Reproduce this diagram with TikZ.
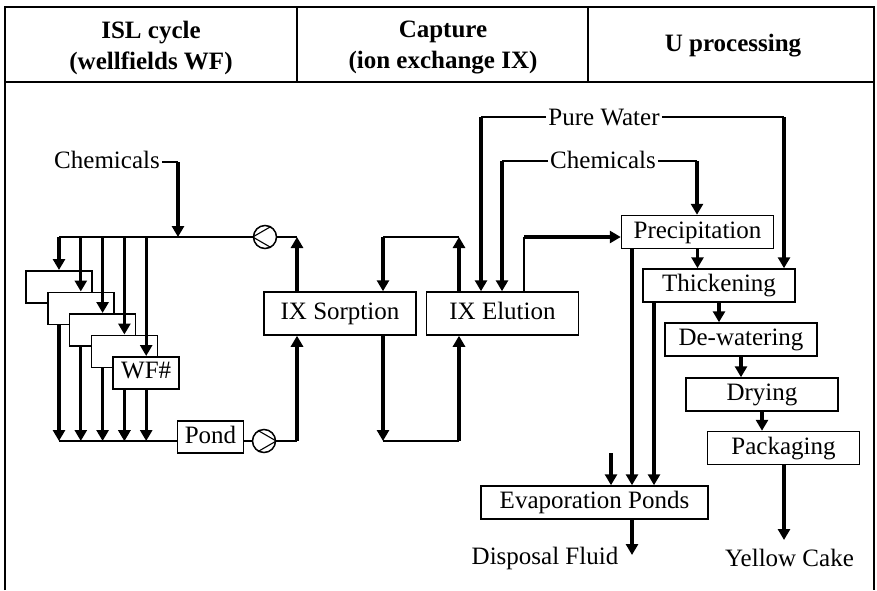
\documentclass[tikz,border=0pt]{standalone}
\usepackage{fontspec}
\setmainfont{Liberation Serif}
\usetikzlibrary{arrows.meta,calc}
\begin{document}
\begin{tikzpicture}[x=1pt,y=-1pt,
  txt/.style={inner sep=2pt,font=\fontsize{25}{30}\selectfont},
  hdr/.style={inner sep=0pt,align=center,font=\bfseries\fontsize{25}{31}\selectfont},
  box/.style={draw,line width=1.5pt,fill=white,minimum width=152pt,minimum height=33pt,inner sep=0pt,text height=17pt,text depth=5pt,font=\fontsize{25}{30}\selectfont},
  bigbox/.style={box,minimum height=43pt},
  wfbox/.style={draw,line width=1.5pt,fill=white,minimum width=66pt,minimum height=32pt,inner sep=0pt,text height=17pt,text depth=5pt,font=\fontsize{25}{30}\selectfont},
  thinline/.style={line width=1.7pt},
  flow/.style={line width=3.3pt,-{Triangle[length=11pt,width=12pt]}},
  pump/.style={circle,draw,line width=1.5pt,minimum size=23pt,inner sep=0pt},
  frame/.style={line width=2pt},
]
\useasboundingbox (0,0) rectangle (877,590);
% frame and header
\draw[frame] (5,590) -- (5,7) -- (874,7) -- (874,590);
\draw[frame] (5,82) -- (874,82);
\draw[frame] (297,7) -- (297,82);
\draw[frame] (588,7) -- (588,82);
\node[hdr] (h1) at (151,47.5) {ISL cycle\\(wellfields WF)};
\node[hdr] (h2) at (443,47.5) {Capture\\(ion exchange IX)};
\node[hdr] (h3) at (733,46) {U processing};

% main nodes
\node[bigbox] (sorp) at (340,313.5) {IX Sorption};
\node[bigbox] (elu) at (502.5,313.5) {IX Elution};
\node[box] (prec) at (697.5,232) {Precipitation};
\node[box] (thick) at (719,285.5) {Thickening};
\node[box] (dew) at (741,339.5) {De-watering};
\node[box] (dry) at (762,394.5) {Drying};
\node[box] (pack) at (783.5,448) {Packaging};
\node[box,minimum width=227pt] (evap) at (594.5,502.5) {Evaporation Ponds};
\node[wfbox] (pond) at (210.5,437) {Pond};
\node[pump] (p1) at (265,237) {};
\node[pump] (p2) at (264,441) {};
\draw[line width=1.1pt] (p1.60) -- (p1.west) -- (p1.-60);
\draw[line width=1.1pt] (p2.120) -- (p2.east) -- (p2.-120);

\node[txt] (ch1) at (107,160) {Chemicals};
\node[txt] (pw) at (604,117) {Pure Water};
\node[txt] (ch2) at (603,160) {Chemicals};
\node[txt] (disp) at (545,558) {Disposal Fluid};
\node[txt] (yc) at (789.5,558) {Yellow Cake};

% ISL cycle
\coordinate (chc) at (178,162);
\coordinate (chm) at (178,237);
\draw[thinline] (ch1.east |- chc) -- (chc);
\coordinate (wt0) at (59,237);
\coordinate (sA) at (297,237);
\coordinate (sB) at (297,441);
\draw[thinline] (wt0) -- (p1.west);
\draw[thinline] (p1.east) -- (sA);
\draw[flow] (chc) -- (chm);
\coordinate (wb0) at (59,441);
\draw[thinline] (wb0) -- (pond.west |- wb0);
\draw[thinline] (pond.east |- p2) -- (p2.west);
\draw[thinline] (p2.east) -- (sB);
\draw[flow] (sB) -- (sB |- sorp.south);
\draw[flow] (sA |- sorp.north) -- (sA);

\foreach \i in {0,...,4}{
  \pgfmathsetmacro{\xx}{59+21.8*\i}
  \pgfmathsetmacro{\yy}{270+21.5*\i}
  \coordinate (wt\i) at (\xx,237);
  \coordinate (wn\i) at (\xx,\yy);
  \coordinate (wb\i) at (\xx,441);
  \draw[flow] (wt\i) -- (wn\i);
  \ifnum\i>0
    \pgfmathtruncatemacro{\j}{\i-1}
    \draw[flow] (w\j.south -| wb\j) -- (wb\j);
  \fi
  \node[wfbox,anchor=north] (w\i) at (wn\i) {\ifnum\i=4 WF\#\fi};
}
\draw[flow] (w4.south -| wb4) -- (wb4);
\coordinate (w3x) at (124.4,441);
\draw[flow] (w4.south -| w3x) -- (w3x);

% capture loop
\coordinate (L1) at (383,237);
\coordinate (L2) at (459,237);
\coordinate (L3) at (383,441);
\coordinate (L4) at (459,441);
\draw[flow] (L2 |- elu.north) -- (L2);
\draw[thinline] (L2) -- (L1);
\draw[flow] (L1) -- (L1 |- sorp.north);
\draw[flow] (L1 |- sorp.south) -- (L3);
\draw[thinline] (L3) -- (L4);
\draw[flow] (L4) -- (L4 |- elu.south);

% pure water and chemicals
\coordinate (pwL) at (481,117);
\coordinate (pwR) at (784,117);
\draw[thinline] (pw.west) -- (pwL);
\draw[flow] (pwL) -- (pwL |- elu.north);
\draw[thinline] (pw.east) -- (pwR);
\draw[flow] (pwR) -- (pwR |- thick.north);
\coordinate (c2L) at (502,161);
\coordinate (c2R) at (697,161);
\draw[thinline] (ch2.west |- c2L) -- (c2L);
\draw[flow] (c2L) -- (c2L |- elu.north);
\draw[thinline] (ch2.east |- c2R) -- (c2R);
\draw[flow] (c2R) -- (c2R |- prec.north);

% elution to precipitation
\coordinate (ep) at (524,237);
\draw[thinline] (ep |- elu.north) -- (ep);
\draw[flow] (ep) -- (prec.west |- ep);

% processing chain
\draw[flow] (prec.south) -- (prec.south |- thick.north);
\draw[flow] (thick.south) -- (thick.south |- dew.north);
\draw[flow] (dew.south) -- (dew.south |- dry.north);
\draw[flow] (dry.south) -- (dry.south |- pack.north);
\coordinate (ycT) at (784,540);
\draw[flow] (pack.south -| ycT) -- (ycT);

% evaporation ponds
\coordinate (ef) at (611,453);
\coordinate (e1) at (632,502);
\coordinate (e2) at (654,502);
\draw[flow] (ef) -- (ef |- evap.north);
\draw[flow] (prec.south -| e1) -- (e1 |- evap.north);
\draw[flow] (thick.south -| e2) -- (e2 |- evap.north);
\coordinate (dfT) at (632,555);
\draw[flow] (evap.south -| dfT) -- (dfT);
\end{tikzpicture}
\end{document}
